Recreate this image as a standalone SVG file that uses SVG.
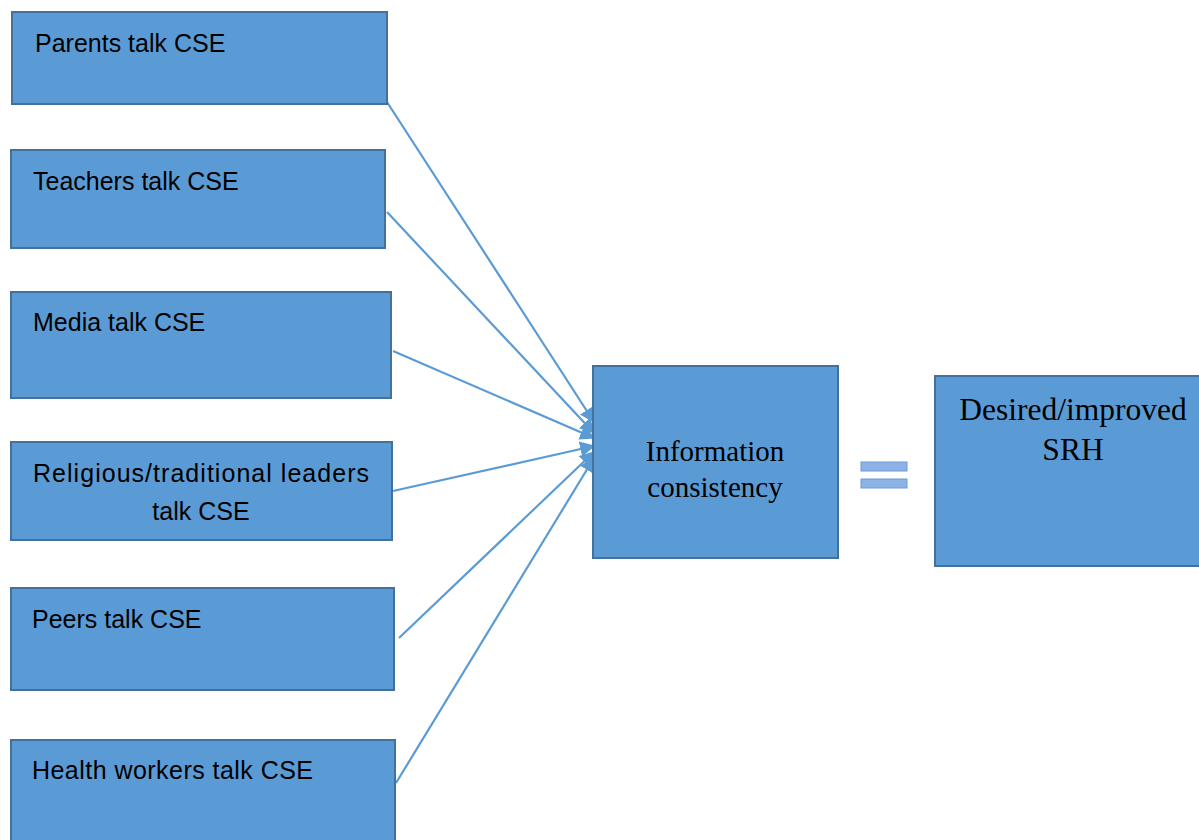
<svg xmlns="http://www.w3.org/2000/svg" width="1199" height="840" viewBox="0 0 1199 840">
<style>
.box{fill:#5B9BD5;stroke:#41719C;stroke-width:2}
.sans{font-family:"Liberation Sans",Arial,sans-serif;font-size:25px;fill:#000}
.serif{font-family:"Liberation Serif","Times New Roman",serif;font-size:29px;fill:#000}
.big{font-size:31.5px}
.conn{stroke:#5B9BD5;stroke-width:2.2;fill:none}
.eq{fill:#8DB3E6;stroke:#6A9BD8;stroke-width:1}
</style>
<defs>
<marker id="arr" viewBox="0 0 10 10" refX="9" refY="5" markerWidth="7" markerHeight="7" orient="auto" markerUnits="strokeWidth">
<path d="M0,0 L10,5 L0,10 z" fill="#5B9BD5"/>
</marker>
</defs>
<rect width="1199" height="840" fill="#fff"/>
<g id="connectors">
<line class="conn" x1="387" y1="102" x2="594" y2="422" marker-end="url(#arr)"/>
<line class="conn" x1="387" y1="212" x2="594" y2="433" marker-end="url(#arr)"/>
<line class="conn" x1="393" y1="351" x2="594" y2="438" marker-end="url(#arr)"/>
<line class="conn" x1="393" y1="491" x2="594" y2="446" marker-end="url(#arr)"/>
<line class="conn" x1="399" y1="638" x2="594" y2="452" marker-end="url(#arr)"/>
<line class="conn" x1="396" y1="783" x2="594" y2="458" marker-end="url(#arr)"/>
</g>
<g id="parents"><rect class="box" x="12" y="12" width="375" height="92"/><text class="sans" x="35" y="52">Parents talk CSE</text></g>
<g id="teachers"><rect class="box" x="11" y="150" width="374" height="98"/><text class="sans" x="33" y="190">Teachers talk CSE</text></g>
<g id="media"><rect class="box" x="11" y="292" width="380" height="106"/><text class="sans" x="33" y="331">Media talk CSE</text></g>
<g id="religious"><rect class="box" x="11" y="442" width="381" height="98"/><text class="sans" x="33" y="482" textLength="336" lengthAdjust="spacing">Religious/traditional leaders</text><text class="sans" x="201" y="520" text-anchor="middle">talk CSE</text></g>
<g id="peers"><rect class="box" x="11" y="588" width="383" height="102"/><text class="sans" x="32" y="628">Peers talk CSE</text></g>
<g id="health"><rect class="box" x="11" y="740" width="384" height="110"/><text class="sans" x="32" y="779" textLength="281" lengthAdjust="spacing">Health workers talk CSE</text></g>
<g id="info"><rect class="box" x="593" y="366" width="245" height="192"/><text class="serif" x="715" y="461" text-anchor="middle">Information</text><text class="serif" x="715" y="497" text-anchor="middle">consistency</text></g>
<g id="equals"><rect class="eq" x="861" y="462" width="46" height="9"/><rect class="eq" x="861" y="479" width="46" height="9"/></g>
<g id="desired"><rect class="box" x="935" y="376" width="270" height="190"/><text class="serif big" x="1073" y="420" text-anchor="middle">Desired/improved</text><text class="serif big" x="1073" y="460" text-anchor="middle">SRH</text></g>
</svg>
